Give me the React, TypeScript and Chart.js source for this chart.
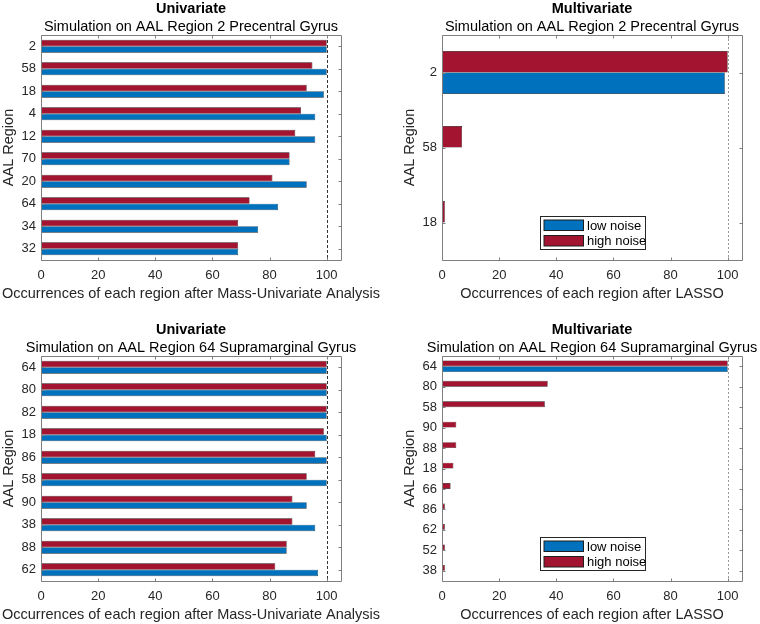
import React, { useEffect, useRef } from "react";
import { Chart, registerables } from "chart.js";

Chart.register(...registerables);

const FONT = "'Liberation Sans', Arial, Helvetica, sans-serif";
const BLUE = "#0072BD";
const RED = "#A2142F";
const AXIS_GRAY = "#7f7f7f";
const TEXT = "#262626";

const seriesNames = ["low noise", "high noise"];
const xMax = 105;
const xStep = 20;
const refValue = 100;

// Region 2 (precentral gyrus), mass-univariate analysis
const uniPreRegions = ["2", "58", "18", "4", "12", "70", "20", "64", "34", "32"];
const uniPreLow = [100, 100, 99, 96, 96, 87, 93, 83, 76, 69];
const uniPreHigh = [100, 95, 93, 91, 89, 87, 81, 73, 69, 69];

// Region 2 (precentral gyrus), LASSO
const multiPreRegions = ["2", "58", "18"];
const multiPreLow = [99, 0, 0];
const multiPreHigh = [100, 7, 1];

// Region 64 (supramarginal gyrus), mass-univariate analysis
const uniSupRegions = ["64", "80", "82", "18", "86", "58", "90", "38", "88", "62"];
const uniSupLow = [100, 100, 100, 100, 100, 100, 93, 96, 86, 97];
const uniSupHigh = [100, 100, 100, 99, 96, 93, 88, 88, 86, 82];

// Region 64 (supramarginal gyrus), LASSO
const multiSupRegions = ["64", "80", "58", "90", "88", "18", "66", "86", "62", "52", "38"];
const multiSupLow = [100, 0, 0, 0, 0, 0, 0, 0, 0, 0, 0];
const multiSupHigh = [100, 37, 36, 5, 5, 4, 3, 1, 1, 1, 1];

const uniTitle = "Univariate";
const multiTitle = "Multivariate";
const preSubtitle = "Simulation on AAL Region 2 Precentral Gyrus";
const supSubtitle = "Simulation on AAL Region 64 Supramarginal Gyrus";
const uniXLabel = "Occurrences of each region after Mass-Univariate Analysis";
const multiXLabel = "Occurrences of each region after LASSO";
const yLabel = "AAL Region";

// Box, inward ticks, reference line, titles and legend in the MATLAB style
const matlabAxes = {
  id: "matlabAxes",
  afterDatasetsDraw(chart: any, _args: any, opts: any) {
    const { ctx, chartArea: a, scales } = chart;
    const x = scales.x;
    const y = scales.y;
    ctx.save();

    // dashed reference line
    const rx = Math.round(x.getPixelForValue(opts.refValue)) + 0.5;
    ctx.strokeStyle = opts.refColor;
    ctx.lineWidth = 1;
    ctx.setLineDash(opts.refDash);
    ctx.beginPath();
    ctx.moveTo(rx, a.top);
    ctx.lineTo(rx, a.bottom);
    ctx.stroke();
    ctx.setLineDash([]);

    // axes box
    const l = Math.round(a.left) + 0.5;
    const r = Math.round(a.right) + 0.5;
    const t = Math.round(a.top) + 0.5;
    const b = Math.round(a.bottom) + 0.5;
    ctx.strokeStyle = AXIS_GRAY;
    ctx.beginPath();
    ctx.rect(l, t, r - l, b - t);
    const len = 3;
    x.ticks.forEach((tk: any) => {
      const p = Math.round(x.getPixelForValue(tk.value)) + 0.5;
      ctx.moveTo(p, t);
      ctx.lineTo(p, t + len);
      ctx.moveTo(p, b);
      ctx.lineTo(p, b - len);
    });
    y.ticks.forEach((_tk: any, i: number) => {
      const p = Math.round(y.getPixelForTick(i)) + 0.5;
      ctx.moveTo(l, p);
      ctx.lineTo(l + len, p);
      ctx.moveTo(r, p);
      ctx.lineTo(r - len, p);
    });
    ctx.stroke();

    const cx = (a.left + a.right) / 2;

    // x-axis label, allowed to run wider than the axes
    ctx.fillStyle = TEXT;
    ctx.textAlign = "center";
    ctx.textBaseline = "middle";
    ctx.font = `14.5px ${FONT}`;
    ctx.fillText(opts.xLabel, cx, a.bottom + 34);

    // titles
    ctx.fillStyle = "#000";
    ctx.textBaseline = "alphabetic";
    ctx.font = `bold 14.5px ${FONT}`;
    ctx.fillText(opts.title, cx, a.top - 22.5);
    ctx.font = `14.5px ${FONT}`;
    ctx.fillText(opts.subtitle, cx, a.top - 4);

    // legend
    if (opts.legend) {
      const lx = a.left + 98;
      const ly = a.top + 181;
      const lw = 105;
      const lh = 33;
      ctx.fillStyle = "#fff";
      ctx.fillRect(lx, ly, lw, lh);
      ctx.strokeStyle = "#262626";
      ctx.strokeRect(lx + 0.5, ly + 0.5, lw, lh);
      const items = chart.data.datasets.slice().reverse();
      ctx.font = `13px ${FONT}`;
      ctx.textAlign = "left";
      ctx.textBaseline = "middle";
      items.forEach((ds: any, i: number) => {
        const sy = ly + 3.5 + i * 15.5;
        ctx.fillStyle = "#1e1e1e";
        ctx.fillRect(lx + 3.5, sy, 40.5, 11.5);
        ctx.fillStyle = ds.backgroundColor;
        ctx.fillRect(lx + 4.5, sy + 1, 38.5, 9.5);
        ctx.fillStyle = "#000";
        ctx.fillText(ds.label, lx + 47, sy + 6.5);
      });
    }
    ctx.restore();
  },
};

type PanelProps = {
  left: number;
  top: number;
  width: number;
  height: number;
  title: string;
  subtitle: string;
  regions: string[];
  low: number[];
  high: number[];
  xLabel: string;
  legend: boolean;
  refColor: string;
  refDash: number[];
};

function Panel(p: PanelProps) {
  const ref = useRef<HTMLCanvasElement | null>(null);
  useEffect(() => {
    if (!ref.current) return;
    const border = (c: any) => (c.raw === 0 ? 0 : 0.6);
    const chart = new Chart(ref.current, {
      type: "bar",
      data: {
        labels: p.regions,
        datasets: [
          {
            label: seriesNames[1],
            data: p.high,
            backgroundColor: RED,
            borderColor: "#2a0a10",
            borderWidth: border,
            borderSkipped: false,
            categoryPercentage: 0.571,
            barPercentage: 1,
          },
          {
            label: seriesNames[0],
            data: p.low,
            backgroundColor: BLUE,
            borderColor: "#0c1e2e",
            borderWidth: border,
            borderSkipped: false,
            categoryPercentage: 0.571,
            barPercentage: 1,
          },
        ],
      },
      options: {
        indexAxis: "y",
        responsive: false,
        animation: false,
        layout: { padding: { top: 35, left: 0, bottom: 0, right: p.width - 341 } },
        plugins: {
          legend: { display: false },
          tooltip: { enabled: false },
          matlabAxes: {
            title: p.title,
            subtitle: p.subtitle,
            xLabel: p.xLabel,
            legend: p.legend,
            refValue,
            refColor: p.refColor,
            refDash: p.refDash,
          },
        } as any,
        scales: {
          x: {
            type: "linear",
            min: 0,
            max: xMax,
            grid: { display: false, drawTicks: false },
            border: { display: false },
            ticks: {
              stepSize: xStep,
              includeBounds: false,
              padding: 8,
              color: TEXT,
              font: { family: FONT, size: 13 },
            },
            afterFit: (s: any) => {
              s.height = 43;
            },
          },
          y: {
            type: "category",
            grid: { display: false, drawTicks: false },
            border: { display: false },
            ticks: {
              autoSkip: false,
              padding: 5,
              color: TEXT,
              font: { family: FONT, size: 13 },
            },
            title: {
              display: true,
              text: yLabel,
              color: TEXT,
              font: { family: FONT, size: 14.5 },
              padding: { top: 0, bottom: 0 },
            },
            afterFit: (s: any) => {
              s.width = 41;
            },
          },
        },
      } as any,
      plugins: [matlabAxes],
    });
    return () => chart.destroy();
  }, []);
  return (
    <canvas
      ref={ref}
      width={p.width}
      height={p.height}
      style={{ position: "absolute", left: p.left, top: p.top, width: p.width, height: p.height }}
    />
  );
}

export default function App() {
  const H = 303;
  return (
    <div style={{ position: "absolute", left: 0, top: 0, width: 760, height: 624, background: "#fff" }}>
      <Panel left={0} top={0} width={400} height={H} title={uniTitle} subtitle={preSubtitle}
        regions={uniPreRegions} low={uniPreLow} high={uniPreHigh} xLabel={uniXLabel}
        legend={false} refColor="#333" refDash={[3, 2]} />
      <Panel left={401} top={0} width={359} height={H} title={multiTitle} subtitle={preSubtitle}
        regions={multiPreRegions} low={multiPreLow} high={multiPreHigh} xLabel={multiXLabel}
        legend={true} refColor="#999" refDash={[2, 2]} />
      <Panel left={0} top={321} width={400} height={H} title={uniTitle} subtitle={supSubtitle}
        regions={uniSupRegions} low={uniSupLow} high={uniSupHigh} xLabel={uniXLabel}
        legend={false} refColor="#333" refDash={[3, 2]} />
      <Panel left={401} top={321} width={359} height={H} title={multiTitle} subtitle={supSubtitle}
        regions={multiSupRegions} low={multiSupLow} high={multiSupHigh} xLabel={multiXLabel}
        legend={true} refColor="#999" refDash={[2, 2]} />
    </div>
  );
}
